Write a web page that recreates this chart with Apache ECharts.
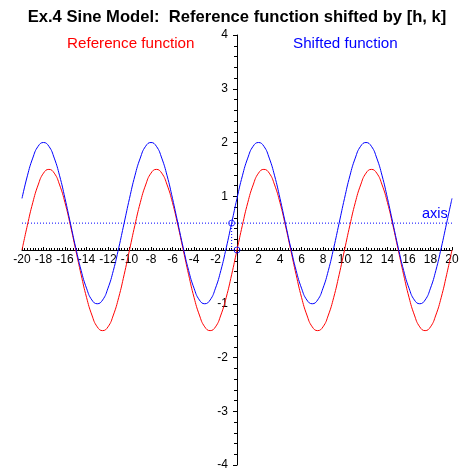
<!DOCTYPE html>
<html><head><meta charset="utf-8">
<script src="https://cdn.jsdelivr.net/npm/echarts@6/dist/echarts.min.js"></script>
<style>html,body{margin:0;padding:0;background:#fff}#c{width:474px;height:474px}</style>
</head><body><div id="c"></div>
<script>
// x samples every 0.5 from -20 to 20
var xStart = -20, xStep = 0.5;
var referenceY = [
 0,0.46,0.88,1.21,1.43,1.5,1.43,1.21,0.88,0.46,0,-0.46,-0.88,-1.21,-1.43,-1.5,-1.43,-1.21,-0.88,-0.46,
 0,0.46,0.88,1.21,1.43,1.5,1.43,1.21,0.88,0.46,0,-0.46,-0.88,-1.21,-1.43,-1.5,-1.43,-1.21,-0.88,-0.46,
 0,0.46,0.88,1.21,1.43,1.5,1.43,1.21,0.88,0.46,0,-0.46,-0.88,-1.21,-1.43,-1.5,-1.43,-1.21,-0.88,-0.46,
 0,0.46,0.88,1.21,1.43,1.5,1.43,1.21,0.88,0.46,0,-0.46,-0.88,-1.21,-1.43,-1.5,-1.43,-1.21,-0.88,-0.46,
 0];
var shiftedY = [
 0.96,1.38,1.71,1.93,2.0,1.93,1.71,1.38,0.96,0.5,0.04,-0.38,-0.71,-0.93,-1.0,-0.93,-0.71,-0.38,0.04,0.5,
 0.96,1.38,1.71,1.93,2.0,1.93,1.71,1.38,0.96,0.5,0.04,-0.38,-0.71,-0.93,-1.0,-0.93,-0.71,-0.38,0.04,0.5,
 0.96,1.38,1.71,1.93,2.0,1.93,1.71,1.38,0.96,0.5,0.04,-0.38,-0.71,-0.93,-1.0,-0.93,-0.71,-0.38,0.04,0.5,
 0.96,1.38,1.71,1.93,2.0,1.93,1.71,1.38,0.96,0.5,0.04,-0.38,-0.71,-0.93,-1.0,-0.93,-0.71,-0.38,0.04,0.5,
 0.96];
var axisLineY = 0.5;           // k
var shiftPoint = [-0.5, 0.5];  // [h, k]
var originPoint = [0, 0];
var xRange = [-20, 20];
var yRange = [-4, 4];

function pairs(arr){ return arr.map(function(v,i){ return [xStart + i*xStep, v]; }); }

var chart = echarts.init(document.getElementById('c'));
var font = 'Liberation Sans, Arial, sans-serif';
var gridW = 430, gridH = 430;
chart.setOption({
  animation: false,
  title: { text: 'Ex.4 Sine Model:  Reference function shifted by [h, k]', left: 'center', top: 4,
           textStyle: { fontFamily: font, fontSize: 16.6, fontWeight: 'bold', color: '#000' } },
  legend: [
    { left: 62, top: 36, itemWidth: 0, itemGap: 0, selectedMode: false, padding: 0,
      data: [{ name: 'Reference function', icon: 'none', textStyle: { color: '#ff0000' } }],
      textStyle: { fontFamily: font, fontSize: 15.2, color: '#ff0000' } },
    { left: 288, top: 36, itemWidth: 0, itemGap: 0, selectedMode: false, padding: 0,
      data: [{ name: 'Shifted function', icon: 'none', textStyle: { color: '#0000ff' } }],
      textStyle: { fontFamily: font, fontSize: 15.2, color: '#0000ff' } }
  ],
  grid: { left: 22, top: 35, width: gridW, height: gridH, containLabel: false, outerBoundsMode: 'none' },
  xAxis: { type: 'value', min: xRange[0], max: xRange[1], interval: 2, position: 'bottom', offset: -gridH/2,
    axisLine: { onZero: false, lineStyle: { color: '#000', width: 1 } },
    axisTick: { inside: true, length: 3, lineStyle: { color: '#000' } },
    minorTick: { show: true, splitNumber: 8, length: 2, lineStyle: { color: '#000' } },
    splitLine: { show: false },
    axisLabel: { color: '#000', fontFamily: font, fontSize: 12, margin: 4, hideOverlap: false,
      formatter: function(v){ return v === 0 ? '' : String(v); } } },
  yAxis: { type: 'value', min: yRange[0], max: yRange[1], interval: 1, position: 'left', offset: -gridW/2,
    axisLine: { onZero: false, lineStyle: { color: '#000', width: 1 } },
    axisTick: { length: 4, lineStyle: { color: '#000' } },
    minorTick: { show: true, splitNumber: 5, length: 3, lineStyle: { color: '#000' } },
    splitLine: { show: false },
    axisLabel: { color: '#000', fontFamily: font, fontSize: 12, margin: 9, hideOverlap: false,
      formatter: function(v){ return v === 0 ? '' : String(v); } } },
  series: [
    { name: 'Reference function', type: 'line', data: pairs(referenceY), smooth: true, showSymbol: false,
      lineStyle: { color: '#ff0000', width: 1 }, itemStyle: { color: '#ff0000' }, z: 3 },
    { name: 'Shifted function', type: 'line', data: pairs(shiftedY), smooth: true, showSymbol: false,
      lineStyle: { color: '#0000ff', width: 1 }, itemStyle: { color: '#0000ff' }, z: 4 },
    { name: 'axis', type: 'line', data: [[xRange[0], axisLineY], [xRange[1], axisLineY]], showSymbol: false,
      lineStyle: { color: '#0000ff', width: 1, type: [1, 2] }, z: 2 },
    { name: 'hline', type: 'line', data: [[shiftPoint[0], 0], shiftPoint], showSymbol: false,
      lineStyle: { color: '#0000ff', width: 1, type: [1, 2] }, z: 2 },
    { name: 'points', type: 'scatter', data: [shiftPoint, originPoint], symbol: 'circle', symbolSize: 6,
      itemStyle: { color: 'rgba(0,0,0,0)', borderColor: '#0000ff', borderWidth: 1 }, z: 5 }
  ],
  graphic: [
    { type: 'text', left: 422, top: 206, style: { text: 'axis', fill: '#0000ff', fontFamily: font, fontSize: 14.5 } }
  ]
});
</script></body></html>
